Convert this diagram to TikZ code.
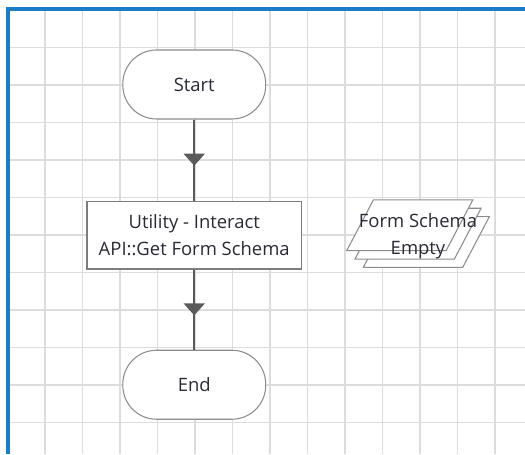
\documentclass[tikz,border=0pt]{standalone}
\usepackage{fontspec}
\setmainfont{Open Sans}
\usetikzlibrary{arrows.meta,positioning,decorations.markings}
\definecolor{fcGrid}{HTML}{DCDCDC}
\definecolor{fcFrame}{HTML}{1A7DC6}
\definecolor{fcLine}{HTML}{5A5A5A}
\definecolor{fcEdge}{HTML}{8C8C8C}
\definecolor{fcInk}{HTML}{2A2A36}
\tikzset{
  % Terminal (start / end)
  tbox/.style={rectangle,rounded corners=0.9cm,
    minimum width=3.81cm,minimum height=1.84cm,
    align=center,draw=fcEdge,line width=0.8pt,fill=white,
    font=\fontsize{14}{20.5}\selectfont,text=fcInk},
  % Process box
  pbox/.style={rectangle,
    minimum width=5.71cm,minimum height=1.81cm,
    align=center,draw=fcEdge!90!black,line width=1.1pt,fill=white,
    font=\fontsize{14}{20.5}\selectfont,text=fcInk},
  % Data sheet (parallelogram)
  dsheet/.style={draw=fcEdge,line width=0.8pt,fill=white},
  dtext/.style={align=center,inner sep=0pt,
    font=\fontsize{14}{20.5}\selectfont,text=fcInk},
  % Grid and frame
  gridline/.style={draw=fcGrid,line width=1.4pt},
  frameline/.style={draw=fcFrame,line width=3pt},
  % Arrows
  arr/.style={color=fcLine,line width=1.5pt,postaction={decorate},
    decoration={markings,
      mark=at position 0.57 with {\arrow{Triangle[width=0.56cm,length=0.32cm]}}}},
}
\begin{document}
\begin{tikzpicture}
  \useasboundingbox (0,0) rectangle (14,12.107);

  % grid
  \begin{scope}
    \clip (0.213,0) rectangle (14,11.872);
    \foreach \gx in {0,...,13}
      \draw[gridline] (0.2+\gx,0) -- (0.2+\gx,12.107);
    \foreach \gy in {0,...,11}
      \draw[gridline] (0,11.84-\gy) -- (14,11.84-\gy);
  \end{scope}
  \draw[frameline] (0.213,0) -- (0.213,11.872) -- (14,11.872);

  \node[tbox] (start) at (5.18,9.854) {Start};
  \node[pbox,below=2.16cm of start] (getschema)
    {Utility - Interact\\API::Get Form Schema};
  \node[tbox,below=2.13cm of getschema] (end) {End};

  % data sheets, back to front
  \coordinate (sheet) at (10.925,6.098);
  \foreach \k in {2,1,0}
    \draw[dsheet] ([shift={(\k*0.222,-\k*0.222)}]sheet) ++(-1.68,-0.677)
      -- ++(2.65,0) -- ++(0.712,1.354) -- ++(-2.65,0) -- cycle;
  \node[dtext] (empty) at ([shift={(0.222,-0.3)}]sheet)
    {Form Schema\\Empty};

  \draw[arr] (start) -- (getschema);
  \draw[arr] (getschema) -- (end);
\end{tikzpicture}
\end{document}
